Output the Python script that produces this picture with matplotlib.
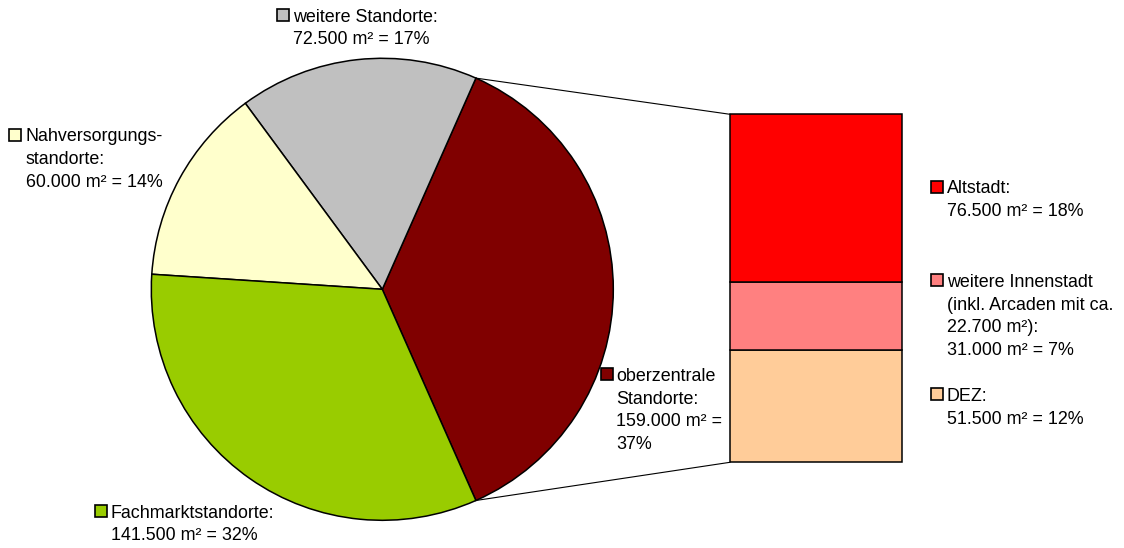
"""
Verkaufsflaechen nach Standorttyp: Kreis mit Aufschluesselung der oberzentralen Standorte.
"""
import matplotlib
matplotlib.use('Agg')
import matplotlib.pyplot as plt
from matplotlib.patches import Rectangle
import numpy as np

W, H = 1124, 548

# Kreis (gegen den Uhrzeigersinn, beginnend mit den oberzentralen Standorten)
pie_names = ['oberzentrale\nStandorte:\n159.000 m² =\n37%',
             'weitere Standorte:\n72.500 m² = 17%',
             'Nahversorgungs-\nstandorte:\n60.000 m² = 14%',
             'Fachmarktstandorte:\n141.500 m² = 32%']
pie_values = [159000, 72500, 60000, 141500]
pie_colors = ['#800000', '#C0C0C0', '#FFFFCC', '#99CC00']

# Saeule (von unten nach oben)
bar_names = ['DEZ:\n51.500 m² = 12%',
             'weitere Innenstadt\n(inkl. Arcaden mit ca.\n22.700 m²):\n31.000 m² = 7%',
             'Altstadt:\n76.500 m² = 18%']
bar_values = [51500, 31000, 76500]
bar_colors = ['#FFCC99', '#FF8080', '#FF0000']

# layout in pixels measured from the top-left
PIE_C = (382.3, 289.3)
PIE_R = 231.0
BAR_L, BAR_R = 730.0, 902.0
BAR_TOP, BAR_BOT = 114.3, 462.3
LINE_H = 22.8
FS = 12.9
MK = 12.0

# label anchor: (marker left x, text x, first baseline y)
pie_label_pos = [(600.5, 616.5, 380.7),
                 (276.5, 292.7, 21.7),
                 (8.5, 25.5, 141.0),
                 (94.5, 111.0, 517.5)]
bar_label_pos = [(931.0, 947.0, 400.7),
                 (931.0, 947.0, 286.7),
                 (931.0, 947.0, 193.3)]

plt.rcParams['font.family'] = ['Liberation Sans', 'DejaVu Sans']

fig = plt.figure(figsize=(W / 100, H / 100), dpi=100)
fig.patch.set_facecolor('white')
ax = fig.add_axes([0, 0, 1, 1])


def fy(y):
    return H - y


start = -pie_values[0] / sum(pie_values) * 180.0
wedges, _ = ax.pie(pie_values, colors=pie_colors, startangle=start,
                   counterclock=True, center=(PIE_C[0], fy(PIE_C[1])),
                   radius=PIE_R,
                   wedgeprops=dict(edgecolor='black', linewidth=1.1))

scale = (BAR_BOT - BAR_TOP) / sum(bar_values)
heights = np.array(bar_values) * scale
bottoms = fy(BAR_BOT) + np.concatenate([[0], np.cumsum(heights)[:-1]])
ax.bar((BAR_L + BAR_R) / 2, heights, width=BAR_R - BAR_L, bottom=bottoms,
       color=bar_colors, edgecolor='black', linewidth=1.1, zorder=3)

# Verbindungslinien vom Kreisausschnitt zur Saeule
w0 = wedges[0]
for ang, yb in [(w0.theta2, fy(BAR_TOP)), (w0.theta1, fy(BAR_BOT))]:
    px = PIE_C[0] + PIE_R * np.cos(np.radians(ang))
    py = fy(PIE_C[1]) + PIE_R * np.sin(np.radians(ang))
    ax.plot([px, BAR_L], [py, yb], color='black', linewidth=0.8, zorder=2)


def label(text, color, pos):
    mx, tx, by = pos
    ax.add_patch(Rectangle((mx, fy(by) + 0.5), MK, MK, facecolor=color,
                           edgecolor='black', linewidth=1.2, zorder=5))
    for i, line in enumerate(text.split('\n')):
        ax.text(tx, fy(by + i * LINE_H), line, fontsize=FS, color='black',
                ha='left', va='baseline', zorder=5)


for name, col, pos in zip(pie_names, pie_colors, pie_label_pos):
    label(name, col, pos)
for name, col, pos in zip(bar_names, bar_colors, bar_label_pos):
    label(name, col, pos)

ax.set_xlim(0, W)
ax.set_ylim(0, H)
ax.set_aspect('equal')
ax.axis('off')

plt.savefig('out.png', dpi=100, facecolor='white')
print('saved out.png')
